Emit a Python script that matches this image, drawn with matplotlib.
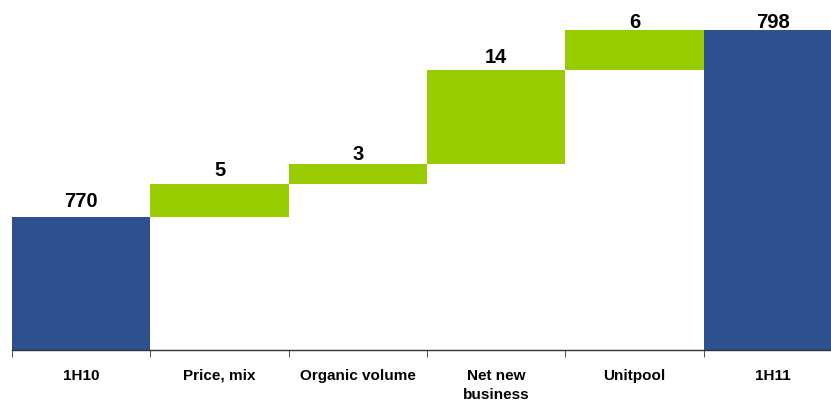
import matplotlib
matplotlib.use("Agg")
import matplotlib.pyplot as plt
import numpy as np

categories = ["1H10", "Price, mix", "Organic volume", "Net new\nbusiness", "Unitpool", "1H11"]
start_total = 770
steps = [5, 3, 14, 6]
end_total = 798

blue = "#2E5090"
green = "#99CC00"
# gap (px) between bar top and label baseline, as in the original
label_gap = [10, 8, 4, 7, 2, 2]

plt.rcParams['font.family'] = ['Liberation Sans', 'DejaVu Sans']

fig = plt.figure(figsize=(8.31, 4.01), dpi=100)
ax = fig.add_axes([12 / 831, 51 / 401, 819 / 831, 350 / 401])

x = np.arange(len(categories))
bottoms = [0]
heights = [start_total]
labels = [str(start_total)]
run = start_total
for s in steps:
    bottoms.append(run)
    heights.append(s)
    labels.append(str(s))
    run += s
bottoms.append(0)
heights.append(end_total)
labels.append(str(end_total))
colors = [blue] + [green] * len(steps) + [blue]

ax.bar(x, heights, bottom=bottoms, width=1.0, color=colors, linewidth=0)

for xi, b, h, lab, g in zip(x, bottoms, heights, labels, label_gap):
    ax.annotate(lab, (xi, b + h), xytext=(0, g * 0.72), textcoords="offset points",
                ha="center", va="baseline", fontsize=14.5, fontweight="bold")

ax.set_xlim(-0.5, 5.42)
ax.set_ylim(750.1, 802.5)

for side in ["top", "right", "left"]:
    ax.spines[side].set_visible(False)
ax.spines["bottom"].set_color("#333333")
ax.spines["bottom"].set_linewidth(1.0)
ax.set_yticks([])

ax.set_xticks(x)
ax.set_xticklabels(categories, fontsize=11, fontweight="bold", linespacing=1.45)
ax.tick_params(axis="x", which="major", length=0, pad=13.5)
ax.set_xticks(np.arange(-0.5, 5.0, 1.0), minor=True)
ax.tick_params(axis="x", which="minor", length=5, direction="out", color="#333333")

fig.savefig("out.png", dpi=100)
